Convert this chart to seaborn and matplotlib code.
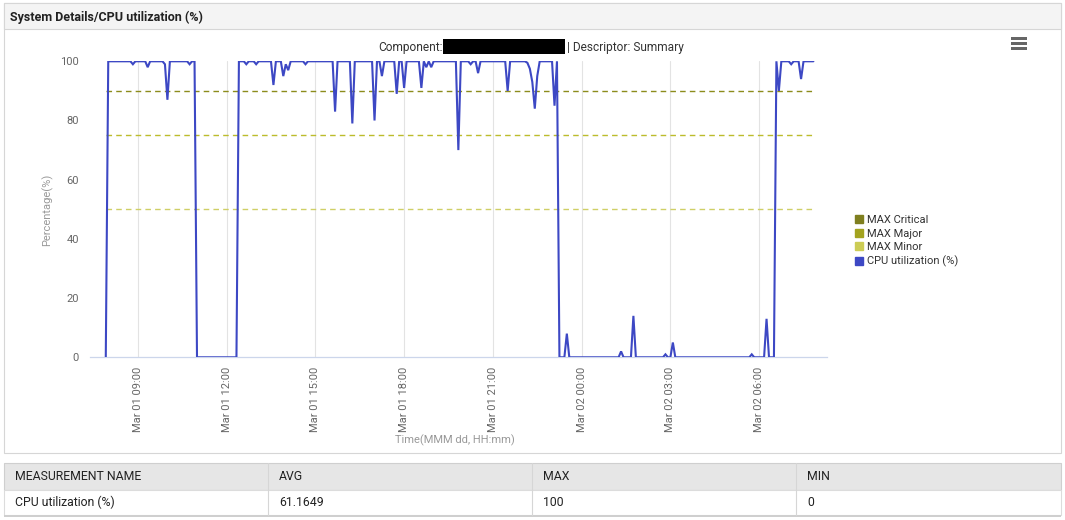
import matplotlib
matplotlib.use("Agg")
import matplotlib.pyplot as plt
import matplotlib.dates as mdates
from matplotlib.patches import Rectangle
from matplotlib.lines import Line2D
import pandas as pd
import seaborn as sns

# ---------------- data ----------------
YEAR = "2023"
cpu_times = [
    "03-01 07:55", "03-01 08:00", "03-01 08:45", "03-01 08:50", "03-01 08:55",
    "03-01 09:15", "03-01 09:20", "03-01 09:25", "03-01 09:50", "03-01 09:55",
    "03-01 10:00", "03-01 10:05", "03-01 10:40", "03-01 10:45", "03-01 10:50",
    "03-01 10:55", "03-01 11:00", "03-01 12:20", "03-01 12:25", "03-01 12:35",
    "03-01 12:40", "03-01 12:45", "03-01 12:55", "03-01 13:00", "03-01 13:05",
    "03-01 13:30", "03-01 13:35", "03-01 13:40", "03-01 13:50", "03-01 13:55",
    "03-01 14:00", "03-01 14:05", "03-01 14:10", "03-01 14:35", "03-01 14:40",
    "03-01 14:45", "03-01 15:35", "03-01 15:40", "03-01 15:45", "03-01 16:10",
    "03-01 16:15", "03-01 16:20", "03-01 16:55", "03-01 17:00", "03-01 17:05",
    "03-01 17:10", "03-01 17:15", "03-01 17:20", "03-01 17:40", "03-01 17:45",
    "03-01 17:50", "03-01 17:55", "03-01 18:00", "03-01 18:05", "03-01 18:30",
    "03-01 18:35", "03-01 18:40", "03-01 18:45", "03-01 18:50", "03-01 18:55",
    "03-01 19:00", "03-01 19:45", "03-01 19:50", "03-01 19:55", "03-01 20:10",
    "03-01 20:15", "03-01 20:20", "03-01 20:25", "03-01 20:30", "03-01 20:35",
    "03-01 21:25", "03-01 21:30", "03-01 21:35", "03-01 22:05", "03-01 22:10",
    "03-01 22:15", "03-01 22:20", "03-01 22:25", "03-01 22:30", "03-01 22:35",
    "03-01 23:00", "03-01 23:05", "03-01 23:10", "03-01 23:15", "03-01 23:25",
    "03-01 23:30", "03-01 23:35", "03-02 01:15", "03-02 01:20", "03-02 01:25",
    "03-02 01:40", "03-02 01:45", "03-02 01:50", "03-02 02:45", "03-02 02:50",
    "03-02 02:55", "03-02 03:00", "03-02 03:05", "03-02 03:10", "03-02 05:40",
    "03-02 05:45", "03-02 05:50", "03-02 06:10", "03-02 06:15", "03-02 06:20",
    "03-02 06:30", "03-02 06:35", "03-02 06:40", "03-02 06:45", "03-02 07:00",
    "03-02 07:05", "03-02 07:10", "03-02 07:20", "03-02 07:25", "03-02 07:30",
    "03-02 07:50",
]
cpu_values = [
    0, 100, 100, 99, 100,
    100, 98, 100, 100, 99,
    87, 100, 100, 99, 100,
    100, 0, 0, 100, 100,
    99, 100, 100, 99, 100,
    100, 92, 100, 100, 95,
    99, 97, 100, 100, 99,
    100, 100, 83, 100, 100,
    79, 100, 100, 80, 100,
    100, 95, 100, 100, 89,
    100, 100, 91, 100, 100,
    91, 100, 98, 100, 98,
    100, 100, 70, 100, 100,
    99, 100, 100, 96, 100,
    100, 90, 100, 100, 99.5,
    97.5, 93, 84, 95, 100,
    100, 85, 100, 0, 0,
    8, 0, 0, 2, 0,
    0, 14, 0, 0, 1,
    0, 0, 5, 0, 0,
    1, 0, 0, 13, 0,
    0, 100, 90, 100, 100,
    99, 100, 100, 94, 100,
    100,
]
threshold_names = ["MAX Critical", "MAX Major", "MAX Minor"]
threshold_values = [90, 75, 50]
threshold_span = ["03-01 07:55", "03-02 07:50"]
threshold_colors = ["#7f7f1f", "#a3a31f", "#cccc55"]
threshold_line_colors = ["#8c8c1c", "#bcbc2c", "#cfcf66"]
cpu_name = "CPU utilization (%)"
cpu_color = "#3d48c4"

y_ticks = [0, 20, 40, 60, 80, 100]
x_range = ["03-01 07:23", "03-02 08:17"]

table_headers = ["MEASUREMENT NAME", "AVG", "MAX", "MIN"]
table_row = ["CPU utilization (%)", "61.1649", "100", "0"]

panel_title = "System Details/CPU utilization (%)"
chart_title_left = "Component:"
chart_title_right = "| Descriptor: Summary"
x_label = "Time(MMM dd, HH:mm)"
y_label = "Percentage(%)"

# ---------------- setup ----------------
sns.set_theme(style="white")
plt.rcParams["font.family"] = ["Roboto", "DejaVu Sans"]

W, H = 1065, 520
fig = plt.figure(figsize=(W / 100, H / 100), dpi=100)
fig.patch.set_facecolor("white")


def fx(x):
    return x / W


def fy(y):
    return 1 - y / H


def prect(x0, y0, x1, y1, z=-5, **kw):
    fig.patches.append(Rectangle((fx(x0), fy(y1)), fx(x1) - fx(x0), fy(y0) - fy(y1),
                                 transform=fig.transFigure, figure=fig, zorder=z, **kw))


def to_dt(s):
    return pd.to_datetime(YEAR + "-" + s)


# panel frame & header
prect(4, 3, 1061, 453, facecolor="white", edgecolor="#d6d6d6", lw=0.8)
prect(4, 3, 1061, 29, facecolor="#f4f4f4", edgecolor="#d6d6d6", lw=0.8)
fig.text(fx(10), fy(17), panel_title, fontsize=9, fontweight="bold", color="#222222",
         ha="left", va="center")

# hamburger icon
for yy in (38.5, 43.5, 48.5):
    prect(1011, yy - 1.3, 1027, yy + 1.3, z=2, facecolor="#666666", edgecolor="none")

# chart title with redaction block
fig.text(fx(443), fy(47), chart_title_left, fontsize=8.6, color="#333333", ha="right", va="center")
prect(443, 39.5, 565, 53.5, z=2, facecolor="black", edgecolor="none")
fig.text(fx(567), fy(47), chart_title_right, fontsize=8.6, color="#333333", ha="left", va="center")

# ---------------- axes ----------------
ax_l, ax_r, ax_t, ax_b = 90, 826.7, 61.3, 357.3
ax = fig.add_axes([fx(ax_l), fy(ax_b), fx(ax_r) - fx(ax_l), fy(ax_t) - fy(ax_b)])
ax.set_facecolor("none")

cpu_df = pd.DataFrame({"time": [to_dt(t) for t in cpu_times], "value": cpu_values})

for name, val, col in zip(threshold_names, threshold_values, threshold_line_colors):
    tdf = pd.DataFrame({"time": [to_dt(t) for t in threshold_span], "value": [val, val]})
    sns.lineplot(data=tdf, x="time", y="value", ax=ax, color=col, lw=1.0,
                 linestyle=(0, (4, 3)), zorder=2)

sns.lineplot(data=cpu_df, x="time", y="value", ax=ax, color=cpu_color, lw=1.5,
             zorder=3, solid_joinstyle="miter")

ax.set_xlim(to_dt(x_range[0]), to_dt(x_range[1]))
ax.set_ylim(y_ticks[0], y_ticks[-1])
ax.set_yticks(y_ticks)
ax.xaxis.set_major_locator(mdates.HourLocator(byhour=[0, 3, 6, 9, 12, 15, 18, 21]))
ax.xaxis.set_major_formatter(mdates.DateFormatter("%b %d %H:%M"))
ax.tick_params(axis="x", length=0, pad=7, labelsize=8, labelcolor="#666666", labelrotation=90)
ax.tick_params(axis="y", length=0, pad=8, labelsize=8, labelcolor="#666666")
ax.grid(axis="x", color="#e3e3e3", lw=0.8)
ax.grid(axis="y", visible=False)
for s in ("top", "right", "left"):
    ax.spines[s].set_visible(False)
ax.spines["bottom"].set_color("#ccd6eb")
ax.spines["bottom"].set_linewidth(0.9)

ax.set_xlabel(x_label, fontsize=8, color="#999999")
ax.set_ylabel(y_label, fontsize=8, color="#999999")
ax.xaxis.set_label_coords((455 - ax_l) / (ax_r - ax_l), (ax_b - 434) / (ax_b - ax_t))
ax.yaxis.set_label_coords((53 - ax_l) / (ax_r - ax_l), (ax_b - 210) / (ax_b - ax_t))

# legend
handles = [Line2D([], [], ls="none", marker="s", markersize=6, markerfacecolor=c,
                  markeredgecolor=c) for c in threshold_colors + [cpu_color]]
labels = threshold_names + [cpu_name]
fig.legend(handles, labels, loc="upper left", bbox_to_anchor=(fx(855), fy(215)),
           frameon=False, fontsize=8, handlelength=0.8, handletextpad=0.3,
           labelspacing=0.32, borderpad=0, borderaxespad=0, labelcolor="#333333")

# ---------------- table ----------------
cols_x = [4, 268, 532, 796, 1061]
prect(4, 463, 1061, 490, facecolor="#e6e6e6", edgecolor="#cfcfcf", lw=0.8)
prect(4, 490, 1061, 515, facecolor="white", edgecolor="#dcdcdc", lw=0.8)
prect(4, 514.5, 1061, 517, facecolor="#cfcfcf", edgecolor="none")
for cx in cols_x[1:-1]:
    fig.add_artist(Line2D([fx(cx), fx(cx)], [fy(463), fy(514.5)], color="#d6d6d6", lw=0.8,
                          transform=fig.transFigure))
for i, (h, v) in enumerate(zip(table_headers, table_row)):
    fig.text(fx(cols_x[i] + 11), fy(477), h, fontsize=8.8, color="#222222", ha="left", va="center")
    fig.text(fx(cols_x[i] + 11), fy(502.5), v, fontsize=8.8, color="#222222", ha="left", va="center")

fig.savefig("out.png", dpi=100)
